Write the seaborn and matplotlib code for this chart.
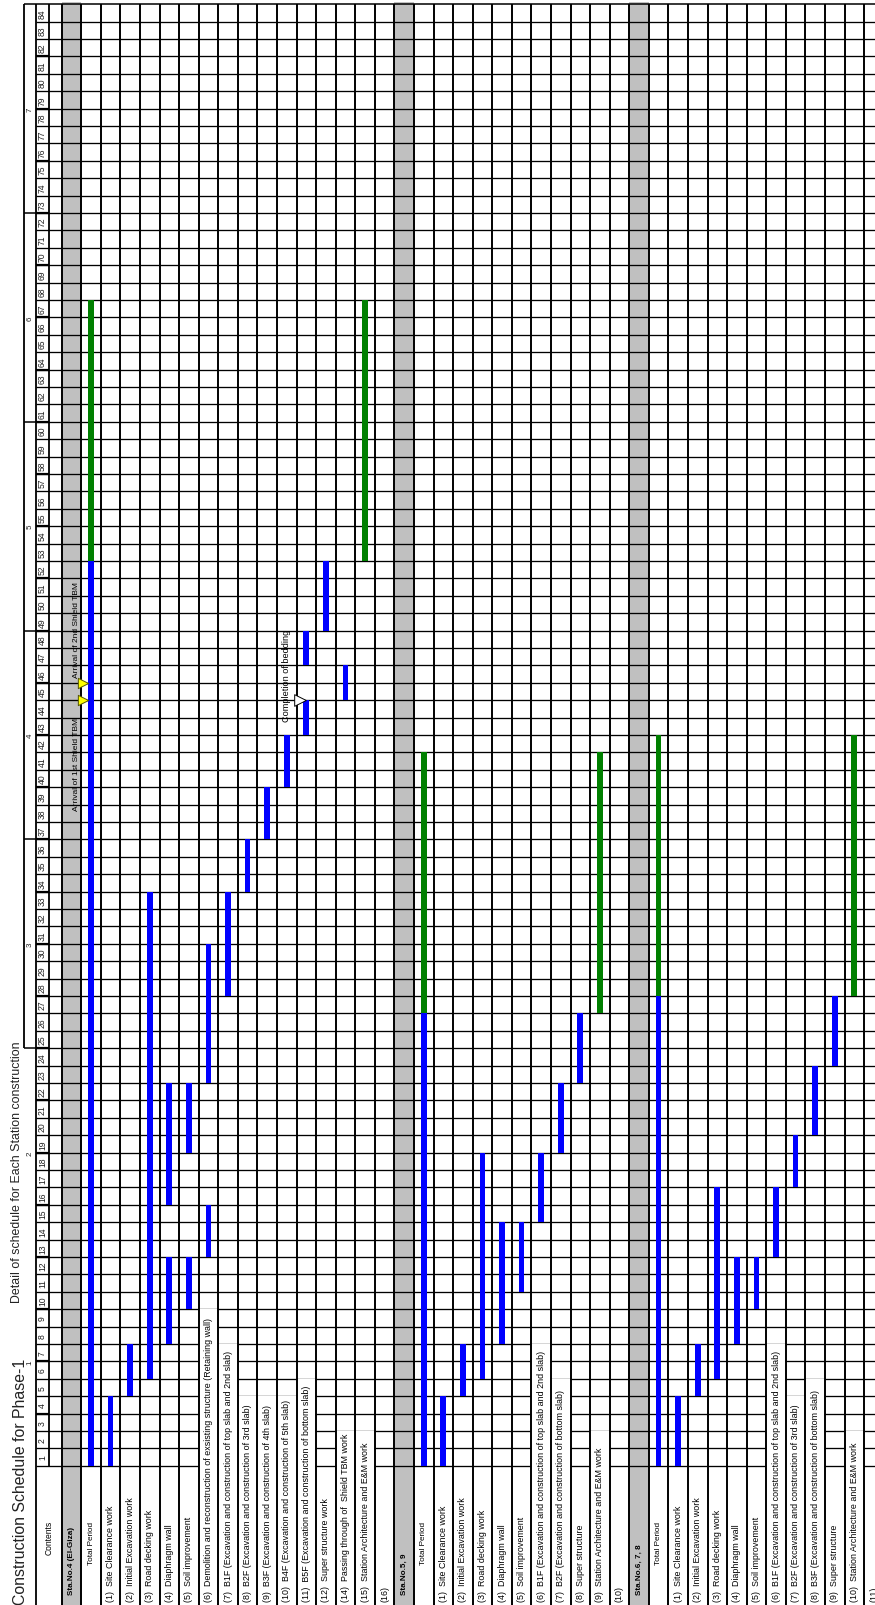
import math
import numpy as np
import pandas as pd
import matplotlib
matplotlib.use("Agg")
import matplotlib.pyplot as plt
from matplotlib.patches import Rectangle
from matplotlib import font_manager
import seaborn as sns

# ---------------- schedule content ----------------
title = "Construction Schedule for Phase-1"
subtitle = "Detail of schedule for Each Station construction"
contents_header = "Contents"

row_labels = [
    "Sta.No.4 (El-Giza)",
    "Total Period",
    "(1)  Site Clearance work",
    "(2)  Initial Excavation work",
    "(3)  Road decking work",
    "(4)  Diaphragm wall",
    "(5)  Soil improvement",
    "(6)  Demolition and reconstruction of exsisting structure (Retaining wall)",
    "(7)  B1F (Excavation and construction of top slab and 2nd slab)",
    "(8)  B2F (Excavation and construction of 3rd slab)",
    "(9)  B3F (Excavation and construction of 4th slab)",
    "(10)  B4F (Excavation and construction of 5th slab)",
    "(11)  B5F (Excavation and construction of bottom slab)",
    "(12)  Super structure work",
    "(14)  Passing through of  Shield TBM work",
    "(15)  Station Architecture and E&M work",
    "(16)",
    "Sta.No.5, 9",
    "Total Period",
    "(1)  Site Clearance work",
    "(2)  Initial Excavation work",
    "(3)  Road decking work",
    "(4)  Diaphragm wall",
    "(5)  Soil improvement",
    "(6)  B1F (Excavation and construction of top slab and 2nd slab)",
    "(7)  B2F (Excavation and construction of bottom slab)",
    "(8)  Super structure",
    "(9)  Station Architecture and E&M work",
    "(10)",
    "Sta.No.6, 7, 8",
    "Total Period",
    "(1)  Site Clearance work",
    "(2)  Initial Excavation work",
    "(3)  Road decking work",
    "(4)  Diaphragm wall",
    "(5)  Soil improvement",
    "(6)  B1F (Excavation and construction of top slab and 2nd slab)",
    "(7)  B2F (Excavation and construction of 3rd slab)",
    "(8)  B3F (Excavation and construction of bottom slab)",
    "(9)  Super structure",
    "(10)  Station Architecture and E&M work",
    "(11)",
]
station_rows = [0, 17, 29]
total_rows = [1, 18, 30]

# bars: row index, first month, last month, phase
bar_row = [1, 1, 2, 3, 4, 5, 5, 6, 6, 7, 7, 8, 9, 10, 11, 12, 12, 13, 14, 15,
           18, 18, 19, 20, 21, 22, 23, 24, 25, 26, 27,
           30, 30, 31, 32, 33, 34, 35, 36, 37, 38, 39, 40]
bar_start = [1, 53, 1, 5, 6, 8, 16, 10, 19, 13, 23, 28, 34, 37, 40, 43, 47, 49, 45, 53,
             1, 27, 1, 5, 6, 8, 11, 15, 19, 23, 27,
             1, 28, 1, 5, 6, 8, 10, 13, 17, 20, 24, 28]
bar_end = [52, 67, 4, 7, 33, 12, 22, 12, 22, 15, 30, 33, 36, 39, 42, 44, 48, 52, 46, 67,
           26, 41, 4, 7, 18, 14, 14, 18, 22, 26, 41,
           27, 42, 4, 7, 16, 12, 12, 16, 19, 23, 27, 42]
bar_phase = ["work", "finish", "work", "work", "work", "work", "work", "work", "work", "work",
             "work", "work", "work", "work", "work", "work", "work", "work", "work", "finish",
             "work", "finish", "work", "work", "work", "work", "work", "work", "work", "work", "finish",
             "work", "finish", "work", "work", "work", "work", "work", "work", "work", "work",
             "work", "finish"]

month_numbers = list(range(1, 85))
year_labels = ["1", "2", "3", "4", "5", "6", "7"]

milestone_text = ["Arrival of 1st Shield TBM", "Arrival of 2nd Shield TBM"]
milestone_month = [44, 45]
bedding_text = "Completion of bedding"
bedding_month = 44

# ---------------- page geometry ----------------
W, H = 875, 1606
X0, CW = 61.7, 19.57      # left edge of first table row, row width (px)
Y0, MH = 1466.7, 17.4     # base line of month 1, month height (px)
XMIN, XMAX = -X0 / CW, (W - X0) / CW
YMIN, YMAX = (Y0 - H) / MH, Y0 / MH
N_MONTHS = len(month_numbers)
N_ROWS = len(row_labels)

YEAR_L = (24 - X0) / CW
MONTH_L = (36 - X0) / CW
MONTH_R = (49 - X0) / CW

BLUE, GREEN, GRAY = "#0000FF", "#008000", "#C0C0C0"

sns.set_theme(style="white")
available = {f.name for f in font_manager.fontManager.ttflist}
if "Liberation Sans Narrow" in available:
    NARROW, fs = "Liberation Sans Narrow", 1.0
else:
    NARROW, fs = "Liberation Sans", 0.82
plt.rcParams["font.family"] = ["Liberation Sans", "DejaVu Sans"]

fig = plt.figure(figsize=(W / 100, H / 100), dpi=100)
ax = fig.add_axes([0, 0, 1, 1])
ax.set_xlim(XMIN, XMAX)
ax.set_ylim(YMIN, YMAX)
ax.axis("off")

# station columns shaded grey
for r in station_rows:
    ax.bar(r + 0.5, N_MONTHS - YMIN + 0.2, bottom=YMIN - 0.1, width=1.0,
           color=GRAY, linewidth=0, zorder=0.5)

# month grid lines
ax.hlines(np.arange(0, N_MONTHS), MONTH_L, XMAX, color="black", lw=0.95, zorder=1)
ax.hlines([N_MONTHS], YEAR_L, XMAX, color="black", lw=1.1, zorder=1)
ax.hlines(np.arange(3, N_MONTHS, 3), MONTH_L, MONTH_R, color="black", lw=1.6, zorder=1.2)
ax.hlines(np.arange(24, N_MONTHS, 12), YEAR_L, MONTH_L, color="black", lw=1.1, zorder=1)

# header column borders
ax.vlines([MONTH_L], YMIN, N_MONTHS, color="black", lw=1.3, zorder=3)
ax.vlines([MONTH_R], 0, N_MONTHS, color="black", lw=1.3, zorder=3)
ax.vlines([YEAR_L], 24, N_MONTHS, color="black", lw=1.3, zorder=3)
# row separators
ax.vlines(np.arange(0, N_ROWS), YMIN, N_MONTHS, color="black", lw=1.4, zorder=3)

# month and year numbers
for m in month_numbers:
    ax.text(-0.5 * (abs(MONTH_L) + abs(MONTH_R)), m - 0.5, str(m), rotation=90,
            rotation_mode="anchor", ha="center", va="center",
            fontsize=7.6 * fs, family=NARROW, color="#222222", zorder=5)
for i, y in enumerate(year_labels):
    ax.text(0.5 * (YEAR_L + MONTH_L), 12 * i + 6, y, rotation=90,
            rotation_mode="anchor", ha="center", va="center",
            fontsize=7 * fs, family=NARROW, color="#222222", zorder=5)

# titles
ax.text((25 - X0) / CW, (Y0 - 1605) / MH, title, rotation=90, rotation_mode="anchor",
        ha="left", va="baseline", fontsize=11.4, color="#222222", zorder=5)
ax.text((19.5 - X0) / CW, (Y0 - 1303) / MH, subtitle, rotation=90, rotation_mode="anchor",
        ha="left", va="baseline", fontsize=8.9, color="#222222", zorder=5)

ax.text(0.5 * (MONTH_L + 0), (Y0 - 1538) / MH, contents_header, rotation=90,
        rotation_mode="anchor", ha="center", va="center",
        fontsize=7.5 * fs, family=NARROW, color="black", zorder=5)

# row labels
item_texts = []
for i, lab in enumerate(row_labels):
    if i in station_rows:
        ax.text(i + 0.5, (Y0 - 1595) / MH, lab, rotation=90, rotation_mode="anchor",
                ha="left", va="center", fontsize=7.2 * fs, family=NARROW,
                fontweight="bold", color="black", zorder=5)
    elif i in total_rows:
        ax.text(i + 0.5, (Y0 - 1543.5) / MH, lab, rotation=90, rotation_mode="anchor",
                ha="center", va="center", fontsize=7.2 * fs, family=NARROW,
                color="black", zorder=5)
    else:
        t = ax.text(i + 0.5, (Y0 - 1602) / MH, lab, rotation=90, rotation_mode="anchor",
                    ha="left", va="center", fontsize=7.8 * fs, family=NARROW,
                    color="black", zorder=5)
        item_texts.append((i, t))

# long labels run over the month cells; those cells are blanked out
fig.canvas.draw()
renderer = fig.canvas.get_renderer()
inv = ax.transData.inverted()
for i, t in item_texts:
    bb = t.get_window_extent(renderer)
    top = inv.transform((0, bb.y1))[1]
    if top > 0:
        ax.add_patch(Rectangle((i, YMIN - 0.1), 1.0, math.ceil(top) - YMIN + 0.1,
                               facecolor="white", edgecolor="none", zorder=2))

# schedule bars
bars = pd.DataFrame({"row": bar_row, "start": bar_start, "end": bar_end, "phase": bar_phase})
for _, b in bars.iterrows():
    ax.bar(b["row"] + 0.5, b["end"] - b["start"] + 1, bottom=b["start"] - 1, width=0.29,
           color=BLUE if b["phase"] == "work" else GREEN, linewidth=0, zorder=4)

# milestones
ms = pd.DataFrame({"x": [(82.5 - X0) / CW] * 2, "y": milestone_month})
sns.scatterplot(data=ms, x="x", y="y", marker=">", s=55, color="#FFFF00",
                edgecolor="#555500", linewidth=0.7, zorder=6, ax=ax, legend=False)
ax.text((76 - X0) / CW, milestone_month[0] - 0.95, milestone_text[0], rotation=90,
        rotation_mode="anchor", ha="right", va="center", fontsize=7.3 * fs,
        family=NARROW, color="black", zorder=6)
ax.text((76 - X0) / CW, milestone_month[1] + 0.3, milestone_text[1], rotation=90,
        rotation_mode="anchor", ha="left", va="center", fontsize=7.3 * fs,
        family=NARROW, color="black", zorder=6)

bd = pd.DataFrame({"x": [(300 - X0) / CW], "y": [bedding_month]})
sns.scatterplot(data=bd, x="x", y="y", marker=">", s=70, color="white",
                edgecolor="black", linewidth=0.7, zorder=6, ax=ax, legend=False)
ax.text(11.5, bedding_month - 1.2, bedding_text, rotation=90, rotation_mode="anchor",
        ha="left", va="center", fontsize=8 * fs, family=NARROW, color="black", zorder=6)

ax.set_xlim(XMIN, XMAX)
ax.set_ylim(YMIN, YMAX)
ax.axis("off")
fig.savefig("out.png", dpi=100)
